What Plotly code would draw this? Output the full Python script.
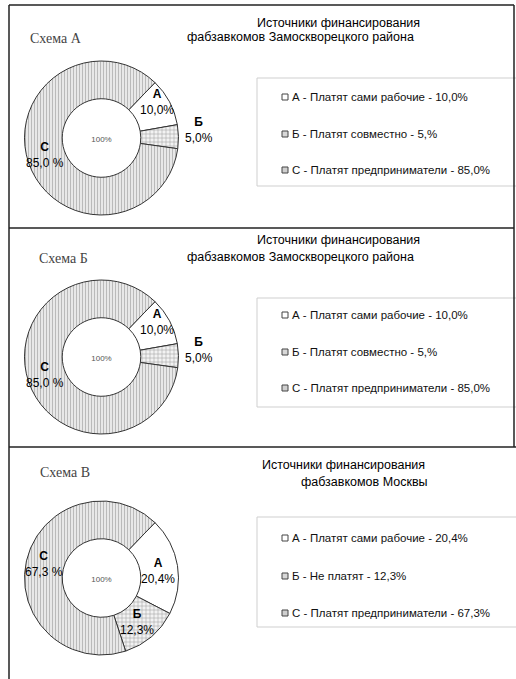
import plotly.graph_objects as go

W, H = 516, 679

# ---------------- data ----------------
slice_labels = ["А", "Б", "С"]
values_a = [10.0, 5.0, 85.0]
values_b = [10.0, 5.0, 85.0]
values_v = [20.4, 12.3, 67.3]

pct_text_a = ["10,0%", "5,0%", "85,0 %"]
pct_text_b = ["10,0%", "5,0%", "85,0 %"]
pct_text_v = ["20,4%", "12,3%", "67,3 %"]

scheme_titles = ["Схема А", "Схема Б", "Схема В"]
chart_title_line1 = ["Источники финансирования"] * 3
chart_title_line2 = ["фабзавкомов Замоскворецкого района",
                     "фабзавкомов Замоскворецкого района",
                     "фабзавкомов Москвы"]

legend_a = ["А - Платят сами рабочие - 10,0%",
            "Б - Платят совместно - 5,%",
            "С - Платят предприниматели - 85,0%"]
legend_b = ["А - Платят сами рабочие - 10,0%",
            "Б - Платят совместно - 5,%",
            "С - Платят предприниматели - 85,0%"]
legend_v = ["А - Платят сами рабочие - 20,4%",
            "Б - Не платят - 12,3%",
            "С - Платят предприниматели - 67,3%"]
center_text = "100%"

# ---------------- helpers ----------------
def px(x):
    return x / W

def py(y):
    return 1 - y / H

fig = go.Figure()

panels = [
    dict(values=values_a, pct=pct_text_a, legend=legend_a, cy=138,
         title=scheme_titles[0], t1=chart_title_line1[0], t2=chart_title_line2[0],
         title_y=(23, 37), title_x=(338, 300), scheme_xy=(56, 38),
         box=(78, 186), rows=(97, 134, 170),
         lab_pos=[(157, 102), (199, 130), (45, 155)]),
    dict(values=values_b, pct=pct_text_b, legend=legend_b, cy=357,
         title=scheme_titles[1], t1=chart_title_line1[1], t2=chart_title_line2[1],
         title_y=(240, 257), title_x=(338, 300), scheme_xy=(63, 258),
         box=(298, 407), rows=(315, 352, 388),
         lab_pos=[(157, 322), (199, 350), (45, 375)]),
    dict(values=values_v, pct=pct_text_v, legend=legend_v, cy=578,
         title=scheme_titles[2], t1=chart_title_line1[2], t2=chart_title_line2[2],
         title_y=(465, 482), title_x=(343, 364), scheme_xy=(65, 472),
         box=(517, 627), rows=(538, 576, 613),
         lab_pos=[(158, 571), (137, 622), (44, 564)]),
]

pie_cx, pie_r = 101.5, 77

pattern_shapes = ["", "+", "|"]
pattern_fg = ["#ffffff", "#a0a0a0", "#b4b4b4"]
pattern_bg = ["#ffffff", "#f2f2f2", "#e8e8e8"]
pattern_size = [4, 4, 3]
pattern_sol = [0.2, 0.25, 0.3]
swatch_fill = ["#ffffff", "#d8d8d8", "#cfcfcf"]

annotations = []
shapes = []

for p in panels:
    cy = p["cy"]
    fig.add_trace(go.Pie(
        labels=slice_labels,
        values=p["values"],
        sort=False,
        direction="clockwise",
        rotation=44,
        hole=0.51,
        textinfo="none",
        showlegend=False,
        hoverinfo="label+value",
        domain=dict(x=[px(pie_cx - pie_r), px(pie_cx + pie_r)],
                    y=[py(cy + pie_r), py(cy - pie_r)]),
        marker=dict(
            colors=["#ffffff", "#eeeeee", "#e2e2e2"],
            line=dict(color="#333333", width=1),
            pattern=dict(shape=pattern_shapes, fgcolor=pattern_fg,
                         bgcolor=pattern_bg, size=pattern_size,
                         solidity=pattern_sol, fillmode="replace"),
        ),
        title=dict(text=center_text, position="middle center",
                   font=dict(family="Liberation Sans, Arial", size=8, color="#555")),
    ))

    # slice labels
    for lab, pct, (lx, ly) in zip(slice_labels, p["pct"], p["lab_pos"]):
        annotations.append(dict(
            x=px(lx), y=py(ly), xref="paper", yref="paper",
            text=f"<b>{lab}</b><br>{pct}", showarrow=False,
            xanchor="center", yanchor="middle",
            font=dict(family="Liberation Sans, Arial", size=12, color="#000000"),
        ))

    # scheme title (serif)
    annotations.append(dict(
        x=px(p["scheme_xy"][0]), y=py(p["scheme_xy"][1]), xref="paper", yref="paper",
        text=p["title"], showarrow=False, xanchor="center", yanchor="middle",
        font=dict(family="Liberation Serif, Times New Roman", size=14, color="#444"),
    ))

    # chart title lines
    annotations.append(dict(
        x=px(p["title_x"][0]), y=py(p["title_y"][0]), xref="paper", yref="paper",
        text=p["t1"], showarrow=False, xanchor="center", yanchor="middle",
        font=dict(family="Liberation Sans, Arial", size=12.5, color="#000000"),
    ))
    annotations.append(dict(
        x=px(p["title_x"][1]), y=py(p["title_y"][1]), xref="paper", yref="paper",
        text=p["t2"], showarrow=False, xanchor="center", yanchor="middle",
        font=dict(family="Liberation Sans, Arial", size=12.5, color="#000000"),
    ))

    # legend box
    b0, b1 = p["box"]
    shapes.append(dict(type="rect", xref="paper", yref="paper",
                       x0=px(257), x1=px(517), y0=py(b1), y1=py(b0),
                       line=dict(color="#cfcfcf", width=1), fillcolor="rgba(0,0,0,0)"))
    for i, (txt, ry) in enumerate(zip(p["legend"], p["rows"])):
        shapes.append(dict(type="rect", xref="paper", yref="paper",
                           x0=px(282), x1=px(288), y0=py(ry + 3), y1=py(ry - 3),
                           line=dict(color="#444", width=1), fillcolor=swatch_fill[i]))
        annotations.append(dict(
            x=px(290), y=py(ry), xref="paper", yref="paper",
            text=txt, showarrow=False, xanchor="left", yanchor="middle",
            font=dict(family="Liberation Sans, Arial", size=11.5, color="#111111"),
        ))

# panel frame lines
frame = "#222"
for (x0, y0, x1, y1) in [(9, 5, 514, 5), (9, 228, 514, 228), (9, 447, 516, 447),
                         (9, 5, 9, 679), (514, 5, 514, 447)]:
    shapes.append(dict(type="line", xref="paper", yref="paper",
                       x0=px(x0), x1=px(x1), y0=py(y0), y1=py(y1),
                       line=dict(color=frame, width=1.5)))

fig.update_layout(
    width=W, height=H,
    margin=dict(l=0, r=0, t=0, b=0),
    paper_bgcolor="white", plot_bgcolor="white",
    annotations=annotations, shapes=shapes,
    showlegend=False,
)

fig.write_html("out.html", config=dict(displayModeBar=False),
               post_script="document.body.style.margin='0';document.body.style.overflow='hidden';")
